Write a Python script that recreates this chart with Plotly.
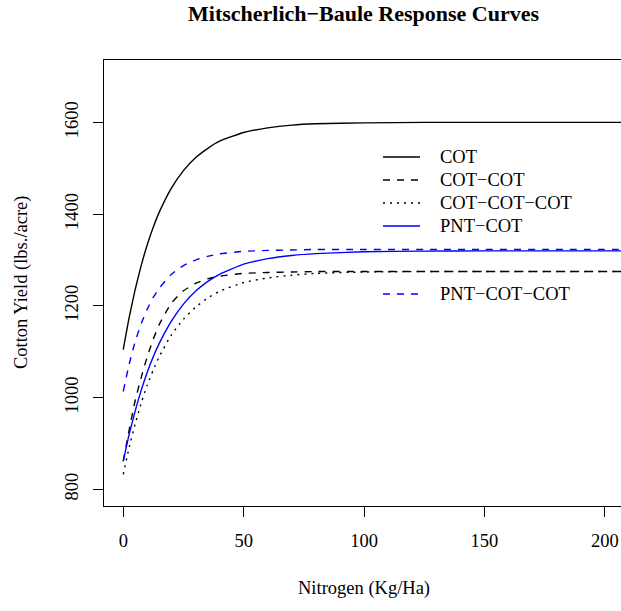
import plotly.graph_objects as go

# ---- data ----
nitrogen = [0, 2.5, 5, 7.5, 10, 12.5, 15, 20, 25, 30, 35, 40, 50, 60, 70, 80, 100, 125, 150, 175, 210]
cot = [1105, 1176, 1237, 1289, 1334, 1372, 1405, 1457, 1495, 1523, 1543, 1559, 1578, 1588, 1594, 1597, 1599, 1600, 1600, 1600, 1600]
cot_cot = [862, 931, 995, 1045, 1090, 1128, 1160, 1206, 1233, 1249, 1259, 1265, 1271, 1273, 1274, 1275, 1275, 1275, 1275, 1275, 1275]
cot_cot_cot = [833, 893, 944, 989, 1028, 1061, 1090, 1137, 1171, 1197, 1217, 1232, 1251, 1261, 1267, 1271, 1274, 1275, 1275, 1275, 1275]
pnt_cot = [862, 921, 972, 1017, 1056, 1090, 1119, 1167, 1204, 1232, 1253, 1269, 1291, 1303, 1310, 1314, 1318, 1319.5, 1320, 1320, 1320]
pnt_cot_cot = [1014, 1074, 1123, 1162, 1193, 1219, 1239, 1269, 1288, 1300, 1308, 1313.5, 1319, 1321, 1322, 1323, 1323, 1323, 1323, 1323, 1323]

series_names = ["COT", "COT\u2212COT", "COT\u2212COT\u2212COT", "PNT\u2212COT", "PNT\u2212COT\u2212COT"]
x_ticks = [0, 50, 100, 150, 200]
y_ticks = [800, 1000, 1200, 1400, 1600]

title_text = "Mitscherlich\u2212Baule Response Curves"
x_title = "Nitrogen (Kg/Ha)"
y_title = "Cotton Yield (lbs./acre)"

# ---- styles ----
FONT = "Liberation Serif"
W, H = 621, 611
ML, MR, MT, MB = 104, 0, 60, 105
PW = W - ML - MR
PH = H - MT - MB

styles = [
    dict(color="#000000", dash="solid"),
    dict(color="#000000", dash="7px,7px"),
    dict(color="#000000", dash="2px,5px"),
    dict(color="#0000FF", dash="solid"),
    dict(color="#0000FF", dash="7px,7px"),
]
all_series = [cot, cot_cot, cot_cot_cot, pnt_cot, pnt_cot_cot]

fig = go.Figure()
for name, ys, st in zip(series_names, all_series, styles):
    fig.add_trace(go.Scatter(
        x=nitrogen, y=ys, mode="lines", name=name,
        line=dict(color=st["color"], dash=st["dash"], width=1.4, shape="spline", smoothing=0.5),
        showlegend=False, hoverinfo="skip",
    ))

def px_to_paper_x(px):
    return (px - ML) / PW

def px_to_paper_y(py):
    return (H - MB - py) / PH

# manual legend (no box), with the two empty slots as in the reference
legend_rows_py = [157, 180, 203, 226, 294]
shapes = []
annotations = []
for name, st, py in zip(series_names, styles, legend_rows_py):
    yp = px_to_paper_y(py)
    shapes.append(dict(type="line", xref="paper", yref="paper",
                       x0=px_to_paper_x(383), x1=px_to_paper_x(420), y0=yp, y1=yp,
                       line=dict(color=st["color"], dash=st["dash"], width=1.4)))
    annotations.append(dict(text=name, xref="paper", yref="paper",
                            x=px_to_paper_x(438), y=yp, xanchor="left", yanchor="middle",
                            showarrow=False, font=dict(family=FONT, size=18.5, color="black")))

annotations.append(dict(text="<b>" + title_text + "</b>", xref="paper", yref="paper",
                        x=px_to_paper_x(364), y=px_to_paper_y(13), xanchor="center", yanchor="middle",
                        showarrow=False, font=dict(family=FONT, size=22, color="black")))
annotations.append(dict(text=x_title, xref="paper", yref="paper",
                        x=px_to_paper_x(364), y=px_to_paper_y(588), xanchor="center", yanchor="middle",
                        showarrow=False, font=dict(family=FONT, size=18.5, color="black")))
annotations.append(dict(text=y_title, xref="paper", yref="paper", textangle=-90,
                        x=px_to_paper_x(21), y=px_to_paper_y(283), xanchor="center", yanchor="middle",
                        showarrow=False, font=dict(family=FONT, size=18.5, color="black")))

fig.update_layout(
    width=W, height=H,
    margin=dict(l=ML, r=MR, t=MT, b=MB, pad=0),
    paper_bgcolor="white", plot_bgcolor="white",
    font=dict(family=FONT, size=18.5, color="black"),
    shapes=shapes, annotations=annotations,
    showlegend=False,
)
fig.update_xaxes(
    range=[-8, 206.75], tickvals=x_ticks, ticktext=[str(v) for v in x_ticks],
    ticks="outside", ticklen=10, tickwidth=1, tickcolor="black",
    showline=True, linecolor="black", linewidth=1, mirror=True,
    showgrid=False, zeroline=False, ticklabelstandoff=8,
    tickfont=dict(family=FONT, size=18.5, color="black"),
)
fig.update_yaxes(
    range=[764, 1736], tickvals=y_ticks, ticktext=[str(v) for v in y_ticks],
    tickangle=-90,
    ticks="outside", ticklen=10, tickwidth=1, tickcolor="black",
    showline=True, linecolor="black", linewidth=1, mirror=False,
    showgrid=False, zeroline=False, ticklabelstandoff=8,
    tickfont=dict(family=FONT, size=18.5, color="black"),
)

fig.write_html("out.html")
